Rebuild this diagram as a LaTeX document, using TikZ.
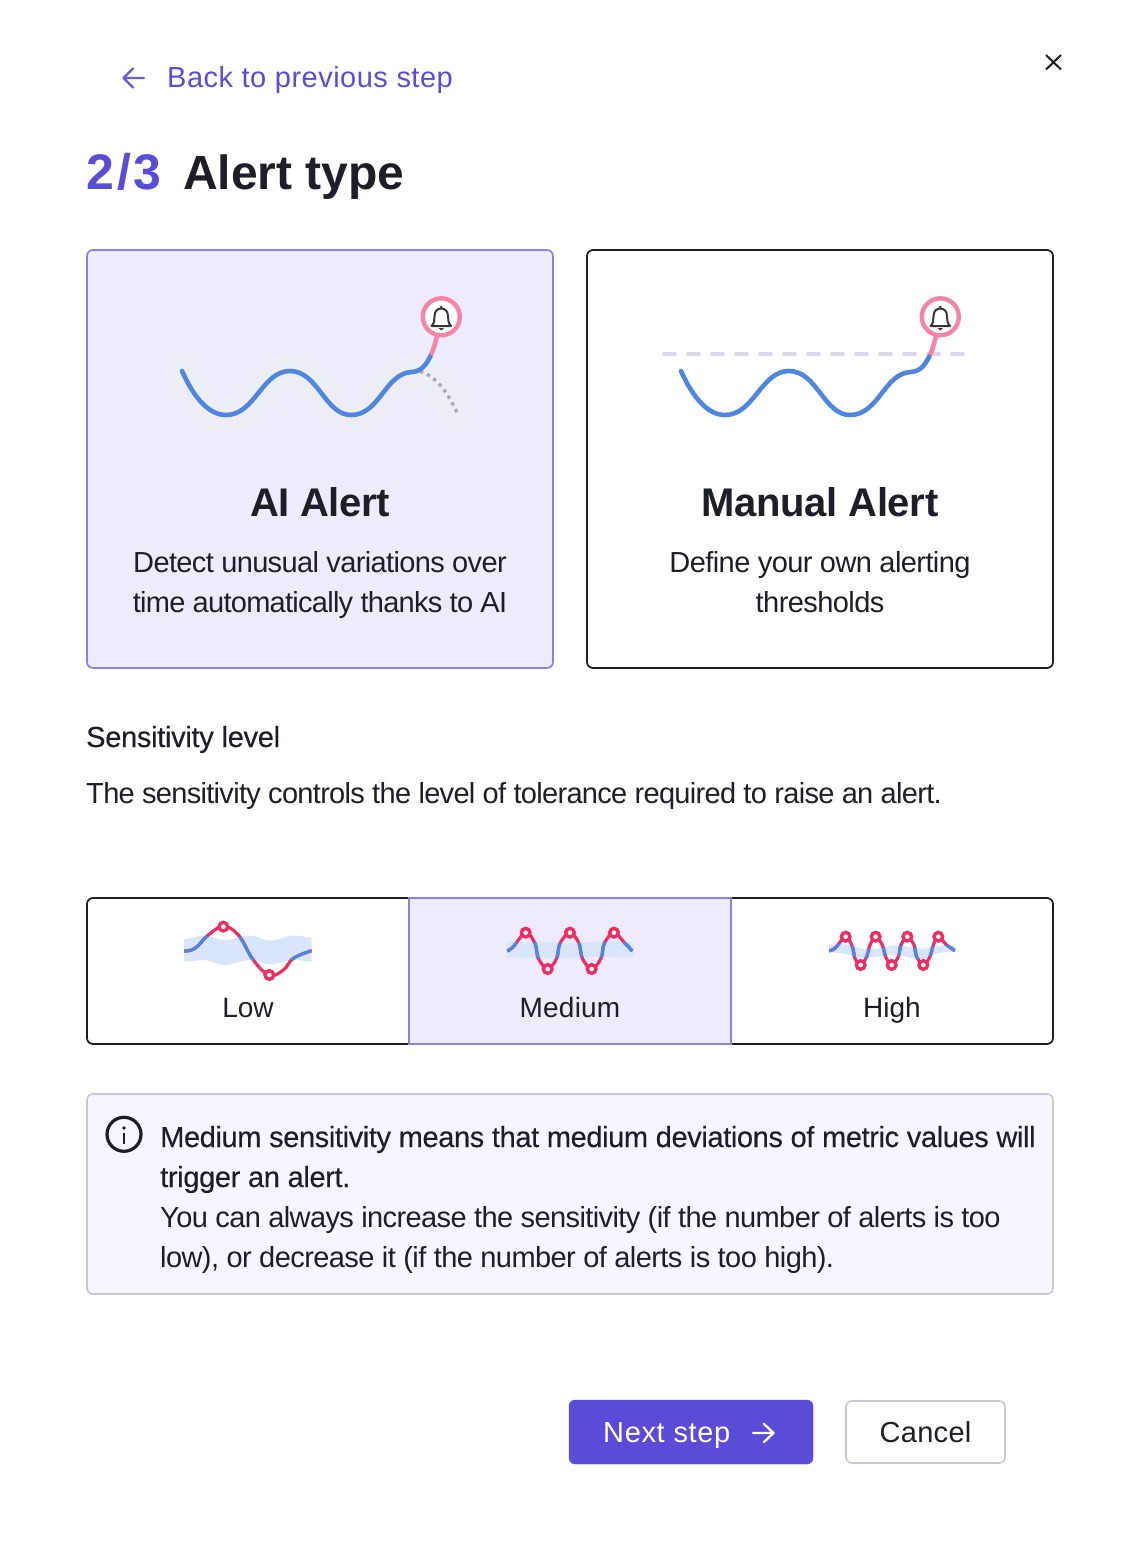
\documentclass[tikz,border=0pt]{standalone}
\usepackage{fontspec}
\setmainfont{Liberation Sans}
\newcommand{\ls}[1]{\addfontfeature{LetterSpace=#1}}
\newcommand{\medw}{\addfontfeature{FakeBold=0.3}}
\definecolor{ink}{HTML}{1E1E26}
\definecolor{brand}{HTML}{5B4CD8}
\definecolor{brandlight}{HTML}{EEEBFD}
\definecolor{brandline}{HTML}{8F80E8}
\definecolor{infofill}{HTML}{F7F6FE}
\definecolor{softline}{HTML}{C9C9D4}
\definecolor{curveblue}{HTML}{4F86E0}
\definecolor{curvepink}{HTML}{F585A6}
\definecolor{curvered}{HTML}{EC2F63}
\definecolor{bandgrey}{HTML}{EDEDF5}
\definecolor{dashgrey}{HTML}{D8D9E5}
\definecolor{dotgrey}{HTML}{A9A9B5}
\definecolor{bandblue}{HTML}{D9E5FB}
\tikzset{
  txt/.style={anchor=base west, inner sep=0, text=ink},
  txtc/.style={anchor=base, inner sep=0, text=ink},
  card/.style={rounded corners=6pt, line width=1.7pt},
  trace/.style={line width=4.6pt, line cap=round, line join=round},
  minitrace/.style={line width=3.2pt, line join=round},
  dot/.style={circle, draw=curvered, fill=white, line width=3.4pt, minimum size=8.6pt, inner sep=0},
  alertcurve/.pic={
    % Line with the bell on top
    \draw[trace, curvepink, line cap=butt] (431,355) .. controls (434,348) and (435,344) .. (437,336);
    \draw[trace, curveblue, line cap=butt] (431,355) .. controls (426,365) and (422,371) .. (412,372);
    \draw[trace, curveblue] (412,372) .. controls (385,373) and (380,415) .. (351,415)
      .. controls (325,415) and (318,371) .. (290,371)
      .. controls (262,371) and (255,415) .. (226,415)
      .. controls (210,415) and (195,400) .. (182,371);
    \draw[line width=4.4pt, curvepink, fill=white] (441.3,316.8) circle (18.5);
    % Bell
    \draw[line width=2pt, ink!90, line join=round]
      (431.6,326) .. controls (434,324) and (434.5,320) .. (434.5,316.5)
      .. controls (434.5,311) and (437.5,308.5) .. (441.3,308.5)
      .. controls (445,308.5) and (448,311) .. (448,316.5)
      .. controls (448,320) and (448.5,324) .. (451,326) -- cycle;
    \fill[ink!90] (441.3,307) circle (1.4) (438.8,328.2) -- (443.8,328.2) -- (441.3,330.5) -- cycle;
  }
}
\begin{document}
\begin{tikzpicture}[x=1pt, y=-1pt]
  \useasboundingbox[fill=white] (0,0) rectangle (1136,1552);

  % Header
  \draw[brand!92!white, line width=2.3pt, line cap=round, line join=round]
    (144,78) -- (124,78) (133,68.5) -- (123.5,78) -- (133,87.5);
  \node[txt, text=brand, font=\fontsize{29}{29}\selectfont\ls{1.7}] (backlink) at (167,88) {Back to previous step};
  \draw[ink, line width=2pt] (1046,55) -- (1061,69.5) (1061,55) -- (1046,69.5);
  \node[txt, text=brand, font=\fontsize{50}{50}\bfseries\ls{6}] (stepno) at (86,189) {2/3};
  \node[txt, font=\fontsize{48}{48}\bfseries] (steptitle) at (183,189) {Alert type};

  % Cards
  \draw[card, draw=brandline, fill=brandlight] (87,250) rectangle (553,668);
  \draw[card, draw=ink, fill=white] (587,250) rectangle (1053,668);

  \draw[line width=35pt, bandgrey, line cap=round, line join=round]
    (182,371) .. controls (195,400) and (210,415) .. (226,415)
    .. controls (255,415) and (262,371) .. (290,371)
    .. controls (318,371) and (325,415) .. (351,415)
    .. controls (380,415) and (385,373) .. (412,372)
    .. controls (432,373) and (448,395) .. (458,415);
  \draw[line width=3.3pt, dash pattern=on 3.3pt off 4.3pt, dotgrey]
    (420,371.5) .. controls (436,376) and (448,392) .. (458.5,416);
  \draw[line width=4pt, dashgrey, dash pattern=on 11pt off 13pt, line cap=round]
    (664,354) -- (964,354);
  \pic at (0,0) {alertcurve};
  \pic at (499,0) {alertcurve};

  \node[txtc, font=\fontsize{40}{40}\bfseries\ls{-1.25}] (aititle) at (320,516) {AI Alert};
  \node[txtc, font=\fontsize{29}{29}\selectfont\ls{-2.2}] (aidesc) at (320,572) {Detect unusual variations over};
  \node[txtc, font=\fontsize{29}{29}\selectfont\ls{-2.5}] (aidesctwo) at (320,612) {time automatically thanks to AI};
  \node[txtc, font=\fontsize{40}{40}\bfseries\ls{-0.8}] (manualtitle) at (820,516) {Manual Alert};
  \node[txtc, font=\fontsize{29}{29}\selectfont\ls{-2}] (manualdesc) at (820,572) {Define your own alerting};
  \node[txtc, font=\fontsize{29}{29}\selectfont\ls{-2}] (manualdesctwo) at (820,612) {thresholds};

  % Sensitivity
  \node[txt, font=\fontsize{29}{29}\selectfont\medw\ls{-1}] (senshead) at (86,747) {Sensitivity level};
  \node[txt, font=\fontsize{29}{29}\selectfont\ls{-2.4}] (senstext) at (86,803) {The sensitivity controls the level of tolerance required to raise an alert.};

  \draw[card, draw=ink, fill=white] (87,898) rectangle (1053,1044);
  \draw[draw=brandline, fill=brandlight, line width=1.7pt] (409,898) rectangle (731,1044);

  % Low
  \begin{scope}[shift={(170,905)}, x=0.3333pt, y=-0.3333pt]
    \def\bandpath{(42,103) .. controls (70,98) and (85,92) .. (100,92) .. controls (125,92) and (140,105) .. (165,105)
      .. controls (190,105) and (210,92) .. (240,92) .. controls (265,92) and (280,107) .. (300,107)
      .. controls (325,107) and (345,92) .. (370,92) .. controls (390,92) and (410,96) .. (425,100)
      -- (425,170) .. controls (410,170) and (390,165) .. (370,165) .. controls (345,165) and (325,178) .. (300,178)
      .. controls (280,178) and (265,165) .. (240,165) .. controls (210,165) and (190,180) .. (165,180)
      .. controls (140,180) and (125,165) .. (100,165) .. controls (85,165) and (65,170) .. (42,170) -- cycle}
    \def\linepath{plot[smooth, tension=0.7] coordinates {(42,138) (75,130) (115,90) (160,65) (205,90) (250,165) (298,210) (340,195) (370,160) (425,137)}}
    \fill[bandblue] \bandpath;
    \draw[minitrace, curvered] \linepath;
    \begin{scope}
      \clip \bandpath;
      \draw[minitrace, curveblue] \linepath;
    \end{scope}
    \foreach \px/\py [count=\n] in {160/65, 298/210} {
      \node[dot] (lowdot\n) at (\px,\py) {};
    }
  \end{scope}
  \node[txtc, font=\fontsize{28}{28}\selectfont] (lowlabel) at (248,1017) {Low};

  % Medium
  \begin{scope}[shift={(495,905)}, x=0.3333pt, y=-0.3333pt]
    \def\bandpath{(35,113) .. controls (120,105) and (200,118) .. (290,112) .. controls (340,108) and (380,110) .. (415,113)
      -- (415,157) .. controls (340,157) and (300,155) .. (250,157) .. controls (180,160) and (100,158) .. (35,157) -- cycle}
    \def\linepath{plot[smooth, tension=0.6] coordinates {(37,138) (55,125) (92,83) (120,115) (130,160) (158,192) (185,160) (195,115) (225,83) (252,115) (262,160) (290,192) (318,160) (328,115) (357,83) (390,115) (412,138)}}
    \fill[bandblue] \bandpath;
    \draw[minitrace, curvered] \linepath;
    \begin{scope}
      \clip \bandpath;
      \draw[minitrace, curveblue] \linepath;
    \end{scope}
    \foreach \px/\py [count=\n] in {92/83, 158/192, 225/83, 290/192, 357/83} {
      \node[dot] (meddot\n) at (\px,\py) {};
    }
  \end{scope}
  \node[txtc, font=\fontsize{28}{28}\selectfont\ls{0.8}] (medlabel) at (570,1017) {Medium};

  % High
  \begin{scope}[shift={(815,915)}, x=0.3333pt, y=-0.3333pt]
    \def\bandpath{(42,90) .. controls (70,85) and (90,85) .. (120,95) .. controls (150,105) and (190,105) .. (230,92)
      .. controls (260,85) and (300,105) .. (330,100) .. controls (360,95) and (390,85) .. (420,92)
      -- (420,112) .. controls (390,110) and (360,112) .. (330,130) .. controls (300,140) and (260,115) .. (230,118)
      .. controls (190,122) and (150,135) .. (120,125) .. controls (90,115) and (70,112) .. (42,112) -- cycle}
    \def\linepath{plot[smooth, tension=0.6] coordinates {(42,107) (60,100) (92,65) (112,95) (120,130) (137,150) (155,125) (165,90) (182,65) (202,90) (212,125) (230,150) (250,125) (258,90) (277,65) (297,90) (305,125) (325,150) (345,125) (355,90) (370,65) (395,90) (420,107)}}
    \fill[bandblue] \bandpath;
    \draw[minitrace, curvered] \linepath;
    \begin{scope}
      \clip \bandpath;
      \draw[minitrace, curveblue] \linepath;
    \end{scope}
    \foreach \px/\py [count=\n] in {92/65, 137/150, 182/65, 230/150, 277/65, 325/150, 370/65} {
      \node[dot] (highdot\n) at (\px,\py) {};
    }
  \end{scope}
  \node[txtc, font=\fontsize{28}{28}\selectfont] (highlabel) at (892,1017) {High};

  % Info box
  \draw[rounded corners=6pt, line width=1.7pt, draw=softline, fill=infofill] (87,1094) rectangle (1053,1294);
  \draw[ink, line width=3.2pt] (124,1134.3) circle (17);
  \draw[ink, line width=2.8pt] (124,1133) -- (124,1143.5);
  \fill[ink] (124,1128) circle (1.9);
  \foreach \t/\yy/\fnt [count=\n] in {
    {Medium sensitivity means that medium deviations of metric values will}/1147/{\medw\ls{-1.3}},
    {trigger an alert.}/1187/{\medw\ls{-1.2}},
    {You can always increase the sensitivity (if the number of alerts is too}/1227/{\ls{-2.1}},
    {low), or decrease it (if the number of alerts is too high).}/1267/{\ls{-2}}} {
    \node[txt, font=\fontsize{29}{29}\selectfont\fnt] (infoline\n) at (160,\yy) {\t};
  }

  % Buttons
  \draw[rounded corners=6pt, fill=brand, draw=brand] (569,1400) rectangle (813,1464);
  \node[txt, text=white, font=\fontsize{29}{29}\selectfont\ls{2.3}] (nextlabel) at (603,1442) {Next step};
  \draw[white, line width=2.3pt, line cap=round, line join=round]
    (753,1433) -- (773,1433) (764,1424) -- (773.5,1433) -- (764,1442);
  \draw[rounded corners=6pt, line width=1.7pt, draw=softline, fill=white] (846,1401) rectangle (1005,1463);
  \node[txtc, font=\fontsize{29}{29}\selectfont\ls{1.1}] (cancellabel) at (925.5,1442) {Cancel};
\end{tikzpicture}
\end{document}
